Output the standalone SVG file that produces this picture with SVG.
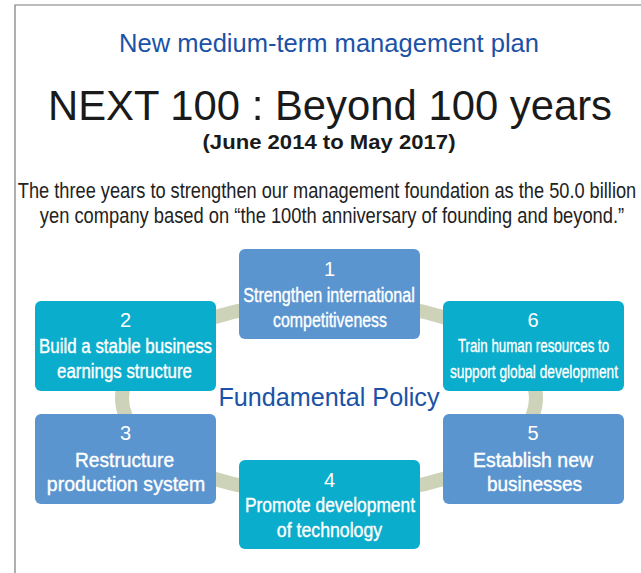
<svg xmlns="http://www.w3.org/2000/svg" width="641" height="573" viewBox="0 0 641 573">
  <style>
    .frame { fill: none; stroke: #7a7a7a; stroke-width: 1.2; }
    .ring { fill: none; stroke: #cdd3b8; stroke-width: 14; }
    .box-blue { fill: #5b95cf; }
    .box-teal { fill: #0aadcb; }
    .num { font-family: "Liberation Sans", Arial, sans-serif; font-size: 20px; fill: #ffffff; text-anchor: middle; }
    .lbl { font-family: "Liberation Sans", Arial, sans-serif; font-size: 21px; fill: #ffffff; stroke: #ffffff; stroke-width: 0.4; text-anchor: middle; }
    .lbl-sm { font-family: "Liberation Sans", Arial, sans-serif; font-size: 18px; fill: #ffffff; stroke: #ffffff; stroke-width: 0.35; text-anchor: middle; }
    .head { font-family: "Liberation Sans", Arial, sans-serif; fill: #1b52a6; text-anchor: middle; }
    .title { font-family: "Liberation Sans", Arial, sans-serif; fill: #1a1a1a; text-anchor: middle; }
    .para { font-family: "Liberation Sans", Arial, sans-serif; font-size: 22px; fill: #222222; text-anchor: middle; }
  </style>

  <!-- page frame -->
  <path class="frame" d="M15,573 V5 H641"/>

  <!-- headings -->
  <text class="head" x="329" y="52" font-size="25" textLength="420" lengthAdjust="spacingAndGlyphs">New medium-term management plan</text>
  <text class="title" x="330" y="120" font-size="42" textLength="564" lengthAdjust="spacingAndGlyphs">NEXT 100 : Beyond 100 years</text>
  <text class="title" x="329" y="149" font-size="20" font-weight="bold" textLength="253" lengthAdjust="spacingAndGlyphs">(June 2014 to May 2017)</text>

  <!-- condensed intro lines: horizontal squeeze via transform -->
  <text class="para" transform="translate(327,198) scale(0.83,1)" textLength="745" lengthAdjust="spacingAndGlyphs">The three years to strengthen our management foundation as the 50.0 billion</text>
  <text class="para" transform="translate(332,223) scale(0.83,1)" textLength="704" lengthAdjust="spacingAndGlyphs">yen company based on “the 100th anniversary of founding and beyond.”</text>

  <!-- cycle ring linking the six policies -->
  <g id="connectors">
    <ellipse class="ring" cx="329" cy="398" rx="207" ry="97"/>
  </g>

  <text class="head" x="329" y="406" font-size="25" textLength="221" lengthAdjust="spacingAndGlyphs">Fundamental Policy</text>

  <g id="node1">
    <rect class="box-blue" x="239" y="249" width="181" height="90" rx="6"/>
    <text class="num" x="329.5" y="276">1</text>
    <text class="lbl" transform="translate(329,302) scale(0.78,1)" textLength="220" lengthAdjust="spacingAndGlyphs">Strengthen international</text>
    <text class="lbl" transform="translate(330,327) scale(0.78,1)" textLength="146" lengthAdjust="spacingAndGlyphs">competitiveness</text>
  </g>

  <g id="node2">
    <rect class="box-teal" x="35" y="301" width="181" height="90" rx="6"/>
    <text class="num" x="125.5" y="327">2</text>
    <text class="lbl" transform="translate(125.5,353) scale(0.78,1)" textLength="222" lengthAdjust="spacingAndGlyphs">Build a stable business</text>
    <text class="lbl" transform="translate(124.5,378) scale(0.78,1)" textLength="173" lengthAdjust="spacingAndGlyphs">earnings structure</text>
  </g>

  <g id="node3">
    <rect class="box-blue" x="35" y="414" width="181" height="90" rx="6"/>
    <text class="num" x="125.5" y="440">3</text>
    <text class="lbl" font-size="22" transform="translate(124.5,467) scale(0.78,1)" textLength="127" lengthAdjust="spacingAndGlyphs">Restructure</text>
    <text class="lbl" font-size="22" transform="translate(126,491) scale(0.78,1)" textLength="203" lengthAdjust="spacingAndGlyphs">production system</text>
  </g>

  <g id="node4">
    <rect class="box-teal" x="239" y="460" width="181" height="89" rx="6"/>
    <text class="num" x="329.5" y="487">4</text>
    <text class="lbl" transform="translate(330,512) scale(0.78,1)" textLength="218" lengthAdjust="spacingAndGlyphs">Promote development</text>
    <text class="lbl" transform="translate(329.5,537) scale(0.78,1)" textLength="135" lengthAdjust="spacingAndGlyphs">of technology</text>
  </g>

  <g id="node5">
    <rect class="box-blue" x="443" y="414" width="181" height="90" rx="6"/>
    <text class="num" x="533" y="440">5</text>
    <text class="lbl" font-size="22" transform="translate(533,467) scale(0.78,1)" textLength="154" lengthAdjust="spacingAndGlyphs">Establish new</text>
    <text class="lbl" font-size="22" transform="translate(534.5,491) scale(0.78,1)" textLength="122" lengthAdjust="spacingAndGlyphs">businesses</text>
  </g>

  <g id="node6">
    <rect class="box-teal" x="443" y="301" width="181" height="90" rx="6"/>
    <text class="num" x="533" y="327">6</text>
    <text class="lbl-sm" transform="translate(533.5,352) scale(0.76,1)" textLength="199" lengthAdjust="spacingAndGlyphs">Train human resources to</text>
    <text class="lbl-sm" transform="translate(534,378) scale(0.76,1)" textLength="221" lengthAdjust="spacingAndGlyphs">support global development</text>
  </g>
</svg>
